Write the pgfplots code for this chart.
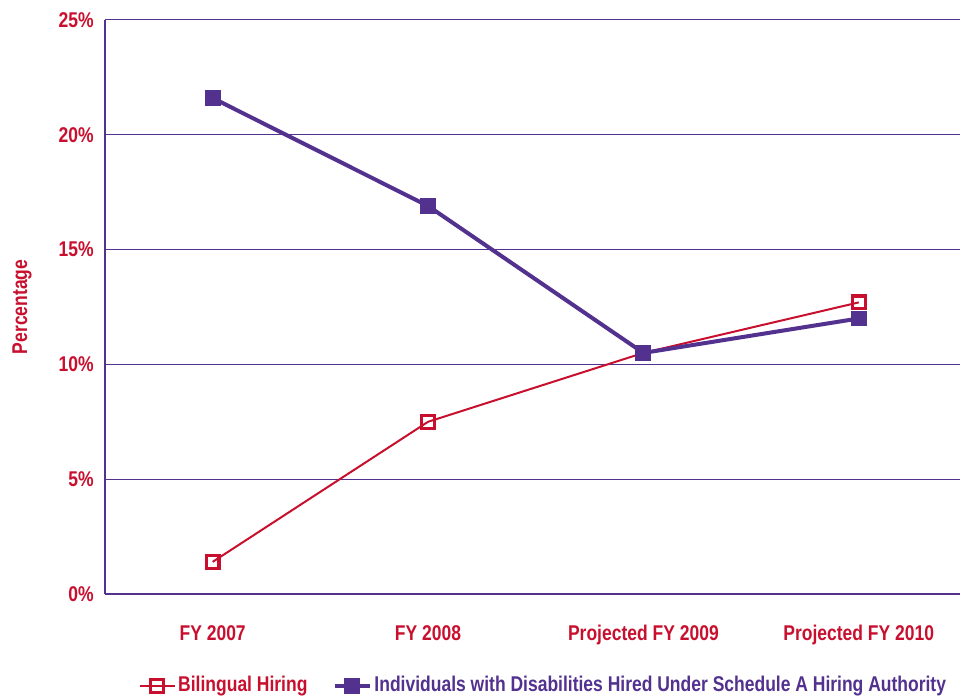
\documentclass[border=0pt]{standalone}
\usepackage{fontspec}
\setmainfont{Liberation Sans}[FakeStretch=0.82]
\usepackage{pgfplots}
\pgfplotsset{compat=1.18}
\definecolor{cred}{HTML}{C8102E}
\definecolor{cpur}{HTML}{52318F}
\newcommand{\tf}{\fontsize{16}{19}\selectfont\bfseries}
\begin{document}
\tf
\begin{tikzpicture}
\path[use as bounding box] (-78.75pt,-78pt) rectangle (641.25pt,445.5pt);
\begin{axis}[
  at={(0,0)}, anchor=south west,
  scale only axis, width=641.25pt, height=430.5pt,
  xmin=-0.5, xmax=3.47, ymin=0, ymax=25,
  axis x line*=bottom, axis y line*=left,
  axis line style={cpur, line width=1.5pt, -},
  xtick={0,1,2,3},
  xticklabels={FY 2007, FY 2008, Projected FY 2009, Projected FY 2010},
  major x tick style={draw=none},
  extra x ticks={0.5,1.5,2.5},
  extra x tick labels={},
  extra x tick style={tick align=inside, major tick length=15pt, tick style={cpur, line width=1.5pt}, grid=none},
  ytick={0,5,10,15,20,25},
  yticklabels={0\%,5\%,10\%,15\%,20\%,25\%},
  major y tick style={draw=none},
  ymajorgrids, grid style={cpur, line width=0.75pt},
  ticklabel style={font=\tf, text=cred},
  xticklabel style={yshift=-18pt},
  yticklabel style={xshift=-3pt},
  ylabel={Percentage}, ylabel style={text=cred, font=\tf, anchor=center, at={(axis description cs:-0.097,0.5)}},
  clip=false,
  legend columns=2,
  legend style={draw=none, fill=none, at={(axis description cs:0.513,-0.160)}, anchor=center,
    font=\tf, /tikz/every even column/.append style={column sep=17pt}},
  legend cell align=left,
  legend image code/.code={\draw[mark repeat=2,mark phase=2] plot coordinates {(0pt,0pt) (13.1pt,0pt) (26.25pt,0pt)};},
]
\addplot[cred, line width=1.5pt, mark=square, mark size=4.8pt, mark options={line width=2.4pt, fill=white}]
  coordinates {(0,1.4) (1,7.5) (2,10.5) (3,12.7)};
\addlegendentry{\textcolor{cred}{Bilingual Hiring}}
\addplot[cpur, line width=3pt, mark=square*, mark size=5.6pt, mark options={line width=0pt}]
  coordinates {(0,21.6) (1,16.9) (2,10.5) (3,12.0)};
\addlegendentry{\textcolor{cpur}{Individuals with Disabilities Hired Under Schedule A Hiring Authority}}
\end{axis}
\end{tikzpicture}
\end{document}
